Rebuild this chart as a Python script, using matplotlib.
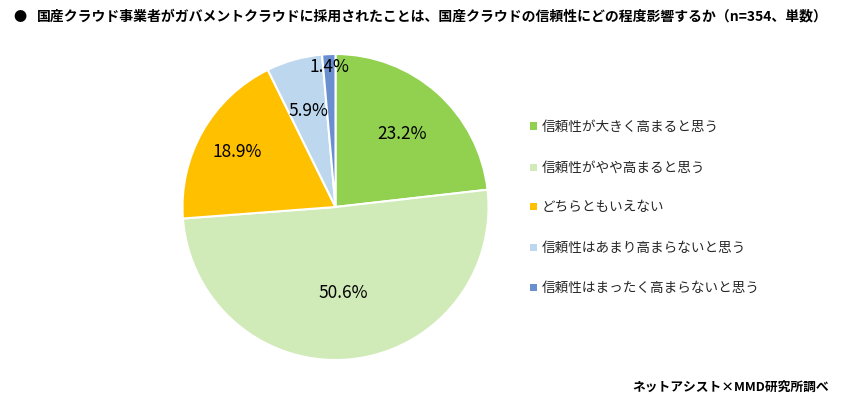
import numpy as np
import matplotlib
matplotlib.use("Agg")
import matplotlib.pyplot as plt
from matplotlib.patches import Rectangle

plt.rcParams['font.family'] = ['Noto Sans CJK JP', 'DejaVu Sans']

categories = ["信頼性が大きく高まると思う", "信頼性がやや高まると思う", "どちらともいえない",
              "信頼性はあまり高まらないと思う", "信頼性はまったく高まらないと思う"]
values = [23.2, 50.6, 18.9, 5.9, 1.4]
colors = ["#92D050", "#D0EAB8", "#FFC000", "#BDD7EE", "#6A8FD0"]
label_dist = [0.65, 0.56, 0.74, 0.66, 0.92]

title = "国産クラウド事業者がガバメントクラウドに採用されたことは、国産クラウドの信頼性にどの程度影響するか（n=354、単数）"
source = "ネットアシスト×MMD研究所調べ"

W, H = 841, 406
fig = plt.figure(figsize=(W/100, H/100), dpi=100)

cx, cy, r = 335.5, 208, 153
ax = fig.add_axes([(cx - r)/W, (H - cy - r)/H, 2*r/W, 2*r/H])
wedges, _ = ax.pie(values, colors=colors, startangle=90, counterclock=False,
                   wedgeprops=dict(edgecolor="white", linewidth=1.5), radius=1.0)
ax.set_xlim(-1, 1); ax.set_ylim(-1, 1)
ax.set_aspect('equal')
ax.axis('off')

for w, v, d in zip(wedges, values, label_dist):
    ang = np.deg2rad((w.theta1 + w.theta2) / 2)
    ax.text(d*np.cos(ang), d*np.sin(ang), f"{v:.1f}%", ha="center", va="center",
            fontsize=12.5, color="#000000")

# legend
ys = [127, 168, 207, 248, 288]
for c, lab, y in zip(colors, categories, ys):
    fig.patches.append(Rectangle((530/W, 1 - (y + 3.5)/H), 7/W, 7/H, transform=fig.transFigure,
                                 facecolor=c, edgecolor="none"))
    fig.text(542/W, 1 - y/H, lab, ha="left", va="center", fontsize=9.8, color="#262626")

fig.text(13/W, 1 - 17/H, "●", ha="left", va="center", fontsize=9.5, color="#000000")
fig.text(37/W, 1 - 17/H, title, ha="left", va="center", fontsize=10.0, fontweight="bold", color="#000000")
fig.text(829/W, 1 - 387/H, source, ha="right", va="center", fontsize=9.2, fontweight="bold", color="#000000")

fig.savefig("out.png", dpi=100, facecolor="white")
